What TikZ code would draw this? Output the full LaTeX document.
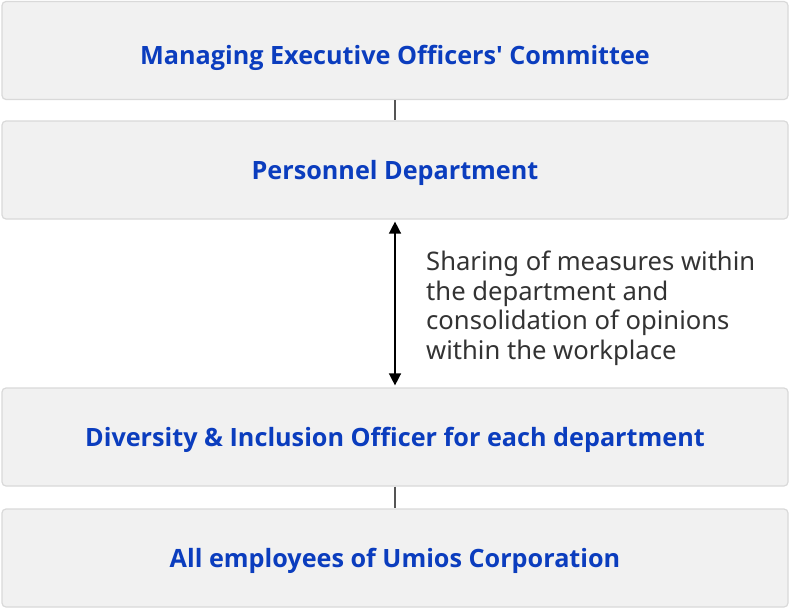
\documentclass[tikz,border=0pt]{standalone}
\usepackage{fontspec}
\setmainfont{Noto Sans}
\newfontfamily\boxfont{Open Sans}
\definecolor{boxfill}{HTML}{F1F1F1}
\definecolor{boxline}{HTML}{D9D9D9}
\definecolor{titleblue}{HTML}{0B3DBE}
\definecolor{notegray}{HTML}{333333}
\definecolor{linkgray}{HTML}{555555}
\usetikzlibrary{arrows.meta}
\tikzset{
  orgbox/.style={draw=boxline, line width=1.2pt, fill=boxfill, rounded corners=4pt,
    minimum width=786pt, minimum height=98pt, inner sep=0pt,
    text height=18pt, text depth=0pt,
    font=\boxfont\bfseries\fontsize{25.2}{28}\selectfont, text=titleblue},
  link/.style={draw=linkgray, line width=1.5pt},
  twoway/.style={draw=black, line width=1.5pt, {Triangle[length=12pt,width=12pt]}-{Triangle[length=12pt,width=12pt]}},
  note/.style={align=left, anchor=west, inner sep=0pt, text=notegray,
    font=\fontsize{25.6}{29.5}\selectfont}
}
\begin{document}
\begin{tikzpicture}[x=1pt,y=-1pt]
\useasboundingbox (0,0) rectangle (790,610);
\node[orgbox, text height=28pt] (b1) at (395,50.5) {Managing Executive Officers' Committee};
\node[orgbox] (b2) at (395,170) {Personnel Department};
\node[orgbox] (b3) at (395,437) {Diversity \& Inclusion Officer for each department};
\node[orgbox] (b4) at (395,558) {All employees of Umios Corporation};
\draw[link] (b1.south) -- (b2.north);
\draw[link] (b3.south) -- (b4.north);
\draw[twoway] ([yshift=-2pt]b2.south) -- ([yshift=2pt]b3.north);
\node[note] (n) at (426,308.5) {Sharing of measures within\\the department and\\consolidation of opinions\\within the workplace};
\end{tikzpicture}
\end{document}
